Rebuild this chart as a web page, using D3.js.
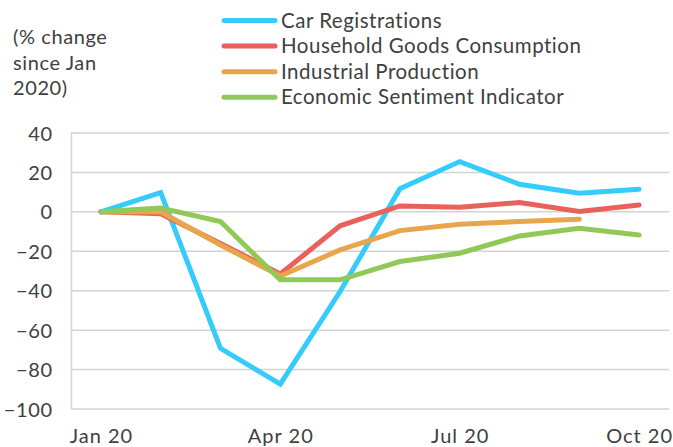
<!DOCTYPE html>
<html><head><meta charset="utf-8">
<script src="https://cdn.jsdelivr.net/npm/d3@7"></script>
<style>
html,body{margin:0;padding:0;background:#fff;}
svg text{font-family:Lato,"Open Sans",sans-serif;fill:#404040;}
</style></head>
<body><svg id="c" width="673" height="447"></svg>
<script>
const months = ["Jan 20","Feb 20","Mar 20","Apr 20","May 20","Jun 20","Jul 20","Aug 20","Sep 20","Oct 20"];
const tickLabels = ["Jan 20","Apr 20","Jul 20","Oct 20"];
const yTicks = [40,20,0,-20,-40,-60,-80,-100];
const seriesNames = ["Car Registrations","Household Goods Consumption","Industrial Production","Economic Sentiment Indicator"];
const seriesColors = ["#35cbfb","#e8615b","#e8a54c","#90c958"];
const carRegistrations = [0,9.8,-69.2,-87.4,-40.4,11.7,25.5,14,9.5,11.5];
const householdGoods = [0,-1,-16,-31.5,-7.1,3,2.4,4.7,0.2,3.5];
const industrialProduction = [0,0,-16.8,-32.5,-19.3,-9.5,-6.3,-4.9,-3.7,null];
const economicSentiment = [0,1.9,-4.9,-34.5,-34.5,-25.2,-21,-12.2,-8.3,-11.7];
const seriesValues = [carRegistrations,householdGoods,industrialProduction,economicSentiment];

(function(){
const svg = d3.select("#c");
const pL = 71, pR = 669, pT = 133, pB = 409;
const x = d3.scalePoint().domain(months).range([pL,pR]).padding(0.5);
const y = d3.scaleLinear().domain([-100,40]).range([pB,pT]);
const fs = 20, ls = 0.6;

// gridlines
svg.append("g").selectAll("line").data(yTicks).join("line")
  .attr("x1",pL).attr("x2",pR)
  .attr("y1",d=>y(d)).attr("y2",d=>y(d))
  .attr("stroke","#d3d3d3").attr("stroke-width",1.5);
svg.append("line").attr("x1",pL+0.5).attr("x2",pL+0.5).attr("y1",pT).attr("y2",pB)
  .attr("stroke","#d3d3d3").attr("stroke-width",1.5);

// y axis labels
const yAxis = d3.axisLeft(y).tickValues(yTicks).tickSize(0).tickPadding(0);
const ya = svg.append("g").attr("transform",`translate(${pL-19+ls},0)`).call(yAxis);
ya.select(".domain").remove();
ya.selectAll("text").attr("font-size",fs).attr("font-family","Lato").attr("fill","#404040")
  .attr("letter-spacing",ls).attr("dy","0.35em");

// x axis labels
const xAxis = d3.axisBottom(x).tickValues(tickLabels).tickSize(0).tickPadding(0);
const xa = svg.append("g").attr("transform",`translate(0,${pB+34})`).call(xAxis);
xa.select(".domain").remove();
xa.selectAll("text").attr("font-size",fs).attr("font-family","Lato").attr("fill","#404040")
  .attr("letter-spacing",1).attr("y",0).attr("dy","0");

// lines
const line = d3.line().defined(d=>d.v!==null).x(d=>x(d.m)).y(d=>y(d.v));
seriesValues.forEach((vals,i)=>{
  svg.append("path").datum(vals.map((v,j)=>({m:months[j],v})))
    .attr("d",line).attr("fill","none").attr("stroke",seriesColors[i])
    .attr("stroke-width",5).attr("stroke-linecap","round").attr("stroke-linejoin","miter");
});

// legend
const lg = svg.append("g");
seriesNames.forEach((n,i)=>{
  const yy = 20.5 + i*25.6;
  lg.append("line").attr("x1",224).attr("x2",275).attr("y1",yy).attr("y2",yy)
    .attr("stroke",seriesColors[i]).attr("stroke-width",5).attr("stroke-linecap","round");
  lg.append("text").attr("x",281).attr("y",yy).attr("dy","0.35em").attr("font-size",20.5)
    .attr("letter-spacing",0.5).text(n);
});

// unit label
["(% change","since Jan","2020)"].forEach((t,i)=>{
  svg.append("text").attr("x",13).attr("y",37+i*25.6).attr("dy","0.35em").attr("font-size",fs)
    .attr("letter-spacing",0.6).text(t);
});
})();
</script></body></html>
